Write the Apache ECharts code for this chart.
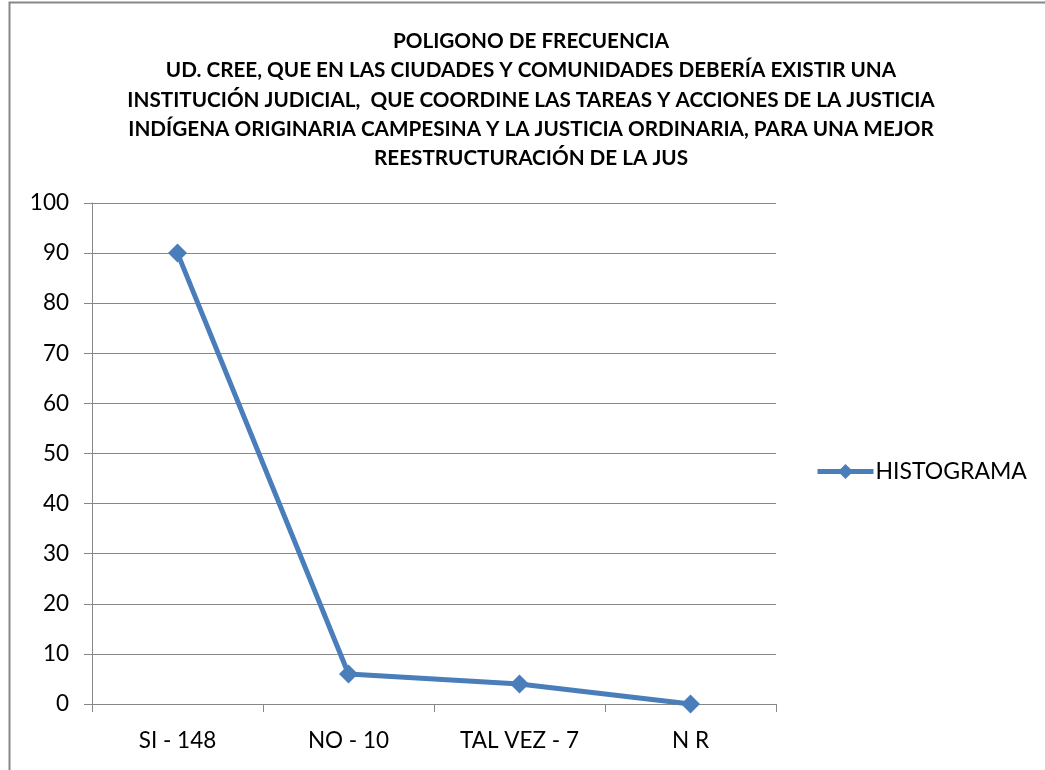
<!DOCTYPE html>
<html>
<head>
<meta charset="utf-8">
<script src="https://cdn.jsdelivr.net/npm/echarts@6/dist/echarts.min.js"></script>
<style>
  html, body { margin: 0; padding: 0; background: #fff; }
  #chart { width: 1045px; height: 770px; }
</style>
</head>
<body>
<div id="chart"></div>
<script>
// Survey answers and their frequencies
const categories = ['SI - 148', 'NO - 10', 'TAL VEZ - 7', 'N R'];
const histograma = [90, 6, 4, 0];
const seriesName = 'HISTOGRAMA';
const titleLines = [
  'POLIGONO DE FRECUENCIA',
  'UD. CREE, QUE EN LAS CIUDADES Y COMUNIDADES DEBERÍA EXISTIR UNA',
  'INSTITUCIÓN JUDICIAL,  QUE COORDINE LAS TAREAS Y ACCIONES DE LA JUSTICIA',
  'INDÍGENA ORIGINARIA CAMPESINA Y LA JUSTICIA ORDINARIA, PARA UNA MEJOR',
  'REESTRUCTURACIÓN DE LA JUS'
];

const FONT = 'Lato, "Open Sans", "Liberation Sans", sans-serif';
const BLUE = '#4a7ebb';
const GRAY = '#878787';

const chart = echarts.init(document.getElementById('chart'), null, { renderer: 'canvas' });
chart.setOption({
  backgroundColor: '#ffffff',
  animation: false,
  graphic: [{
    type: 'rect',
    shape: { x: 9.5, y: 2.5, width: 1100, height: 900 },
    style: { fill: 'none', stroke: GRAY, lineWidth: 2 },
    silent: true
  }],
  title: {
    text: titleLines.join('\n'),
    left: 531,
    top: 27,
    padding: 0,
    textAlign: 'center',
    textStyle: {
      fontFamily: FONT,
      fontSize: 20.7,
      fontWeight: 'bold',
      color: '#000',
      lineHeight: 29.2
    }
  },
  legend: {
    left: 815,
    top: 460,
    padding: 0,
    itemWidth: 56,
    itemHeight: 19,
    itemGap: 4,
    lineStyle: { width: 5 },
    textStyle: { fontFamily: FONT, fontSize: 23, color: '#000', padding: [0, 0, 0, -3] },
    data: [seriesName]
  },
  grid: { left: 92, right: 269, top: 203, bottom: 66, containLabel: false },
  xAxis: {
    type: 'category',
    data: categories,
    boundaryGap: true,
    axisLine: { lineStyle: { color: GRAY, width: 1 } },
    axisTick: { show: true, length: 8, inside: false, lineStyle: { color: GRAY } },
    axisLabel: { fontFamily: FONT, fontSize: 22.5, color: '#000', margin: 25 }
  },
  yAxis: {
    type: 'value',
    min: 0,
    max: 100,
    interval: 10,
    axisLine: { show: true, lineStyle: { color: GRAY, width: 1 } },
    axisTick: { show: true, length: 8, inside: false, lineStyle: { color: GRAY } },
    splitLine: { lineStyle: { color: GRAY, width: 1 } },
    axisLabel: { fontFamily: FONT, fontSize: 22.5, color: '#000', margin: 23 }
  },
  series: [{
    name: seriesName,
    type: 'line',
    data: histograma,
    symbol: 'diamond',
    symbolSize: 19,
    itemStyle: { color: BLUE },
    lineStyle: { color: BLUE, width: 5 }
  }]
});
</script>
</body>
</html>
